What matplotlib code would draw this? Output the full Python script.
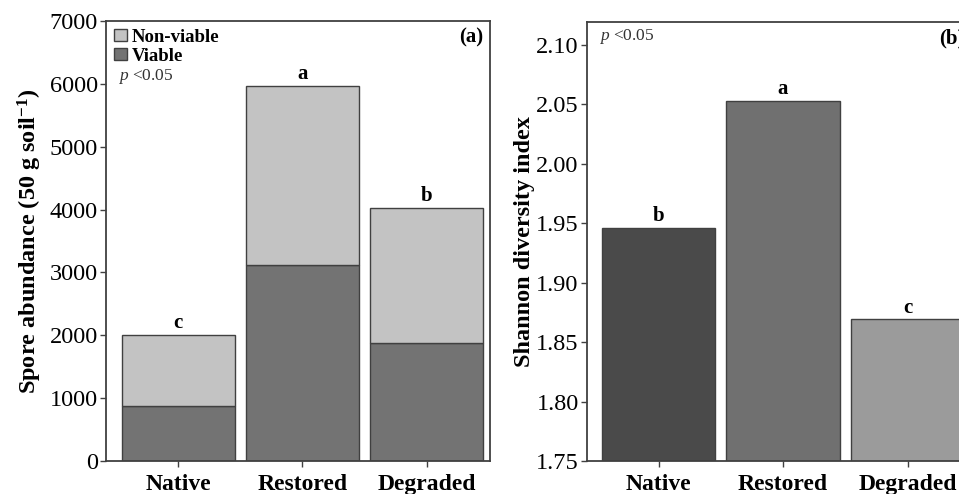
import numpy as np
import matplotlib
matplotlib.use("Agg")
import matplotlib.pyplot as plt
from matplotlib.patches import Patch

plt.rcParams['font.family'] = ['Liberation Serif', 'DejaVu Serif']
plt.rcParams['mathtext.fontset'] = 'custom'
plt.rcParams['mathtext.rm'] = 'Liberation Serif'
plt.rcParams['mathtext.it'] = 'Liberation Serif:italic'
plt.rcParams['mathtext.bf'] = 'Liberation Serif:bold'

# data
sites = ['Native', 'Restored', 'Degraded']
viable = [880, 3120, 1880]
total_spores = [2010, 5960, 4020]
nonviable = [t - v for t, v in zip(total_spores, viable)]
letters_a = ['c', 'a', 'b']

shannon = [1.946, 2.053, 1.869]
letters_b = ['b', 'a', 'c']

edge = '#404040'
spine_col = '#404040'

fig = plt.figure(figsize=(9.59, 4.94), dpi=100)
W, H = 959, 494
ax1 = fig.add_axes([106 / W, 33 / H, 384 / W, 440 / H])
ax2 = fig.add_axes([587 / W, 33 / H, 384 / W, 439 / H])

x = np.arange(len(sites))
bw = 0.91

# (a) stacked spores
ax1.bar(x, viable, bw, color='#737373', edgecolor=edge, linewidth=1, label='Viable')
ax1.bar(x, nonviable, bw, bottom=viable, color='#c3c3c3', edgecolor=edge,
        linewidth=1, label='Non-viable')
for i, t in enumerate(total_spores):
    ax1.text(x[i], t + 30, letters_a[i], ha='center', va='bottom',
             fontsize=15, fontweight='bold')
ax1.set_xlim(-0.58, 2.51)
ax1.set_ylim(0, 7000)
ax1.set_yticks(np.arange(0, 7001, 1000))
ax1.set_ylabel('Spore abundance (50 g soil$^{\\mathbf{-1}}$)', fontsize=17.5,
               fontweight='bold', labelpad=4)
handles = [Patch(facecolor='#c3c3c3', edgecolor=edge, label='Non-viable'),
           Patch(facecolor='#737373', edgecolor=edge, label='Viable')]
leg = ax1.legend(handles=handles, loc='upper left', frameon=False,
                 handlelength=0.7, handleheight=0.6, handletextpad=0.25,
                 labelspacing=0.12, borderaxespad=0.3, borderpad=0.1,
                 prop={'weight': 'bold', 'size': 13.5})
ax1.text(0.03, 0.873, '$\\it{p}$ <0.05', transform=ax1.transAxes, fontsize=12.5,
         color='#333333', ha='left', va='center')
ax1.text(0.982, 0.963, '(a)', transform=ax1.transAxes, fontsize=15,
         fontweight='bold', ha='right', va='center')

# (b) Shannon index
ax2.bar(x, shannon, bw, bottom=0, color=['#4a4a4a', '#707070', '#9b9b9b'],
        edgecolor=edge, linewidth=1)
for i, s in enumerate(shannon):
    ax2.text(x[i], s + 0.0015, letters_b[i], ha='center', va='bottom',
             fontsize=15, fontweight='bold')
ax2.set_xlim(-0.575, 2.51)
ax2.set_ylim(1.75, 2.119)
ticks_b = np.arange(1.75, 2.101, 0.05)
ax2.set_yticks(ticks_b)
ax2.set_yticklabels([f'{v:.2f}' for v in ticks_b])
ax2.set_ylabel('Shannon diversity index', fontsize=17.5, fontweight='bold', labelpad=0.5)
ax2.text(0.03, 0.968, '$\\it{p}$ <0.05', transform=ax2.transAxes, fontsize=12.5,
         color='#333333', ha='left', va='center')
ax2.text(0.982, 0.963, '(b)', transform=ax2.transAxes, fontsize=15,
         fontweight='bold', ha='right', va='center')

for ax in (ax1, ax2):
    ax.set_xticks(x)
    ax.set_xticklabels(sites, fontsize=17, fontweight='bold')
    ax.tick_params(axis='y', labelsize=17.5, length=4, width=1, color=spine_col, pad=2)
    ax.tick_params(axis='x', length=4, width=1, color=spine_col, pad=5)
    for sp in ax.spines.values():
        sp.set_color(spine_col)
        sp.set_linewidth(1.3)

fig.savefig('out.png', dpi=100)
